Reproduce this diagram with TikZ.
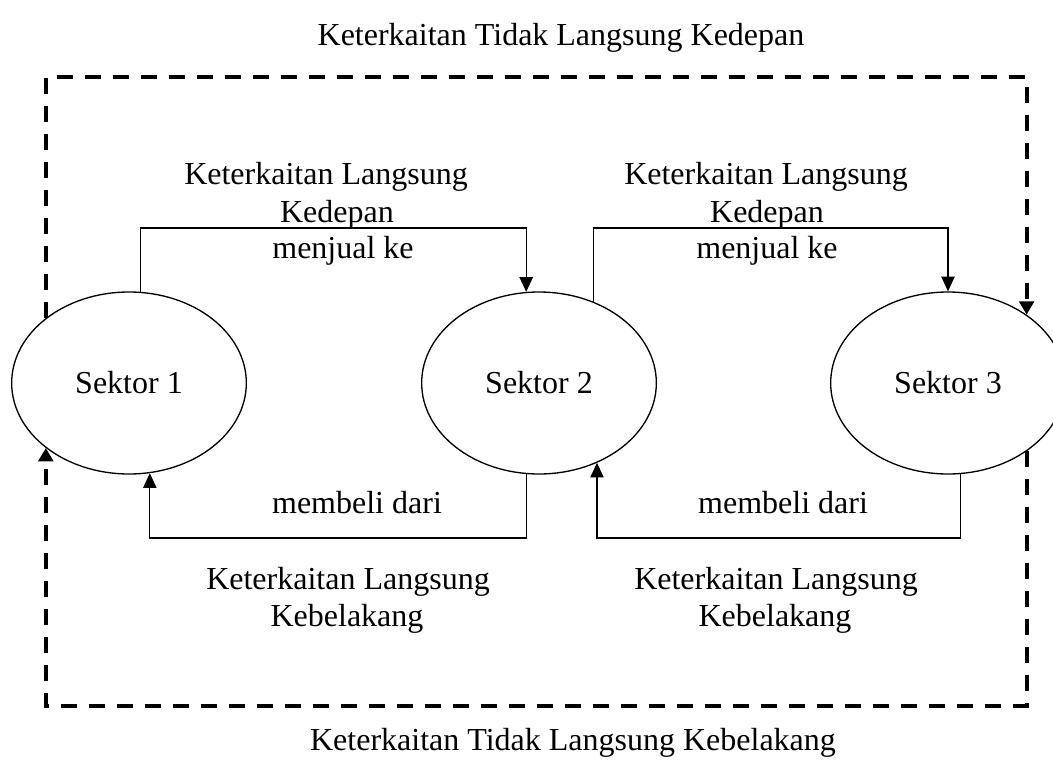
\documentclass[tikz,border=0pt]{standalone}
\usepackage{fontspec}
\setmainfont{Liberation Serif}
\usetikzlibrary{shapes.geometric,arrows.meta}

\begin{document}
\begin{tikzpicture}[x=0.75pt,y=-0.75pt,font=\fontsize{24}{28.8}\selectfont,
	sektor/.style={draw,ellipse,line width=1pt,minimum width=176pt,minimum height=136.5pt,inner sep=0pt},
	langsung/.style={line width=1pt,-{Triangle[length=11pt,width=10pt]}},
	taklangsung/.style={line width=3pt,dash pattern=on 12pt off 9pt,-{Triangle[length=10pt,width=11pt]}},
	teks/.style={anchor=base,inner sep=0pt}]
	\useasboundingbox (0,0) rectangle (1053,760);

	\node[sektor] (sek1) at (129,383) {Sektor 1};
	\node[sektor] (sek2) at (539,383) {Sektor 2};
	\node[sektor] (sek3) at (948,383) {Sektor 3};

	\coordinate (atas) at (0,228);
	\coordinate (bawah) at (0,538);
	\coordinate (kiriatas) at (46,77);
	\coordinate (kananbawah) at (1027,706);

	% keterkaitan langsung
	\draw[langsung] (sek1.83) -- (sek1.83 |- atas) -| (sek2.98);
	\draw[langsung] (sek2.56) -- (sek2.56 |- atas) -| (sek3.north);
	\draw[langsung] (sek2.262) -- (sek2.262 |- bawah) -| (sek1.283);
	\draw[langsung] (sek3.278) -- (sek3.278 |- bawah) -| (sek2.306);

	% keterkaitan tidak langsung
	\draw[taklangsung] (sek1.142) -- (sek1.142 |- kiriatas) -| (sek3.41);
	\draw[taklangsung] (sek3.319) -- (sek3.319 |- kananbawah) -| (sek1.218);

	\node[teks] (judulatas) at (561,45) {Keterkaitan Tidak Langsung Kedepan};
	\node[teks] (judulbawah) at (573,750) {Keterkaitan Tidak Langsung Kebelakang};

	\node[teks] (kd1a) at (326,184) {Keterkaitan Langsung};
	\node[teks] (kd1b) at (337,222) {Kedepan};
	\node[teks] (jual1) at (343,258) {menjual ke};
	\node[teks] (kd2a) at (766,184) {Keterkaitan Langsung};
	\node[teks] (kd2b) at (767,222) {Kedepan};
	\node[teks] (jual2) at (767,258) {menjual ke};

	\node[teks] (beli1) at (357,513) {membeli dari};
	\node[teks] (beli2) at (783,513) {membeli dari};
	\node[teks] (kb1a) at (348,589) {Keterkaitan Langsung};
	\node[teks] (kb1b) at (347,626) {Kebelakang};
	\node[teks] (kb2a) at (776,589) {Keterkaitan Langsung};
	\node[teks] (kb2b) at (775,626) {Kebelakang};

	% \draw[help lines,step=50] (0,0) grid (1053,760);
\end{tikzpicture}
\end{document}
